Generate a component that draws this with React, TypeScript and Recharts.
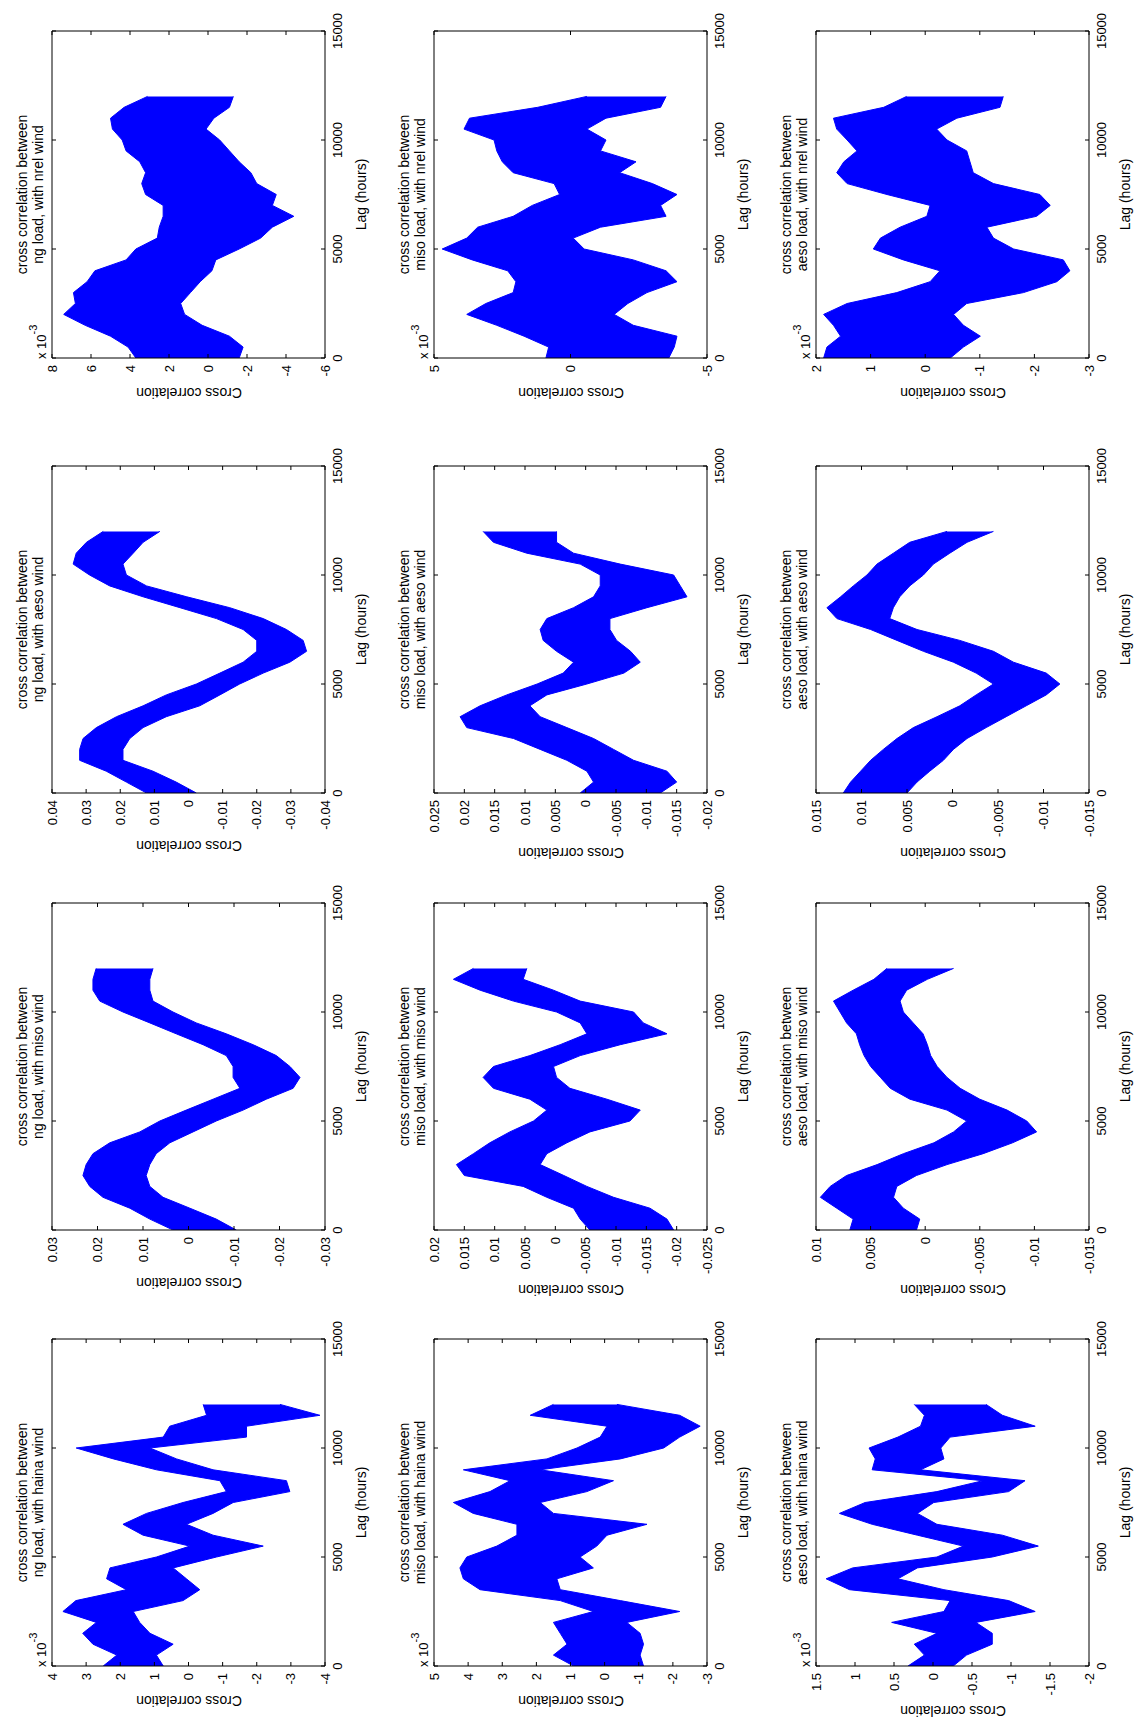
import React from 'react';
import { ComposedChart, Area, XAxis, YAxis, ReferenceArea } from 'recharts';

// lag sample points (hours) used for the band envelopes
const LAGS = [0, 500, 1000, 1500, 2000, 2500, 3000, 3500, 4000, 4500, 5000, 5500, 6000,
  6500, 7000, 7500, 8000, 8500, 9000, 9500, 10000, 10500, 11000, 11500, 12000];
const LAG_TICKS = [0, 5000, 10000, 15000];

// upper / lower envelope of each cross-correlation trace
// (haina + nrel panels are in units of 10^-3, as on their axes)
const NG_HAINA_HI = [2.5, 2.1, 2.8, 3.1, 2.7, 3.68, 3.3, 1.82, 2.4, 2.3, 0.94, -0.04, 1.33, 1.92, 1.23, 0.16, -1.11, -0.92, 0.94, 2.2, 3.29, 0.74, 0.55, -0.53, -0.43];
const NG_HAINA_LO = [0.74, 0.94, 0.45, 1.13, 1.43, 1.62, 0.16, -0.33, 0.06, 0.45, -0.82, -2.19, -0.72, 0.06, -0.72, -1.31, -2.97, -2.87, -0.72, 0.35, 1.13, -1.7, -1.7, -3.85, -2.68];
const MISO_HAINA_HI = [0.91, 1.5, 1.1, 1.3, 1.5, 0.33, 1.3, 3.65, 4.14, 4.24, 4.04, 3.16, 2.57, 2.57, 3.85, 4.43, 3.36, 2.77, 4.14, 1.69, 0.81, 0.13, -0.07, 2.18, 1.5];
const MISO_HAINA_LO = [-1.14, -1.04, -1.14, -1.04, -0.65, -2.2, -0.46, 1.3, 1.4, 0.33, 0.72, 0.23, -0.07, -1.24, 1.5, 1.89, 0.52, -0.26, 1.89, -0.46, -1.73, -2.2, -2.8, -2.2, -0.36];
const AESO_HAINA_HI = [0.32, 0.11, 0.24, -0.05, 0.53, -0.14, -0.22, 1.07, 1.37, 1.03, -0.05, -0.39, 0.2, 0.78, 1.2, 0.87, -0.05, -0.64, 0.78, 0.74, 0.82, 0.45, 0.16, 0.11, 0.24];
const AESO_HAINA_LO = [-0.26, -0.43, -0.76, -0.76, -0.55, -1.31, -0.97, -0.14, 0.45, 0.2, -0.76, -1.35, -0.89, -0.05, 0.2, -0.01, -0.97, -1.18, 0.16, -0.14, -0.1, -0.22, -1.31, -0.89, -0.68];

const NG_MISO_HI = [0.0034, 0.0085, 0.0129, 0.0188, 0.0217, 0.0232, 0.0225, 0.021, 0.0173, 0.0107, 0.0063, 0.0005, -0.0054, -0.0113, -0.0098, -0.0098, -0.0083, -0.0032, 0.0027, 0.0085, 0.0144, 0.0195, 0.021, 0.021, 0.0203];
const NG_MISO_LO = [-0.0105, -0.0061, -0.0003, 0.0056, 0.0085, 0.0093, 0.0085, 0.0071, 0.0041, -0.001, -0.0061, -0.012, -0.0171, -0.023, -0.0245, -0.0223, -0.0193, -0.0142, -0.0083, -0.0017, 0.0034, 0.0078, 0.0085, 0.0085, 0.0078];
const MISO_MISO_HI = [-0.0057, -0.0041, -0.003, 0.0014, 0.0053, 0.015, 0.0163, 0.0135, 0.0108, 0.0075, 0.0036, 0.0014, 0.0042, 0.0102, 0.0119, 0.0102, 0.0042, -0.0008, -0.0052, -0.0041, -0.0002, 0.0069, 0.0124, 0.0168, 0.0135];
const MISO_MISO_LO = [-0.0195, -0.0184, -0.0156, -0.0096, -0.0052, -0.0014, 0.0025, 0.0014, -0.0019, -0.0057, -0.0123, -0.014, -0.0085, -0.0024, -0.0002, 0.0003, -0.0041, -0.0107, -0.0184, -0.0145, -0.0129, -0.0041, 0.0003, 0.0053, 0.0047];
const AESO_MISO_HI = [0.0069, 0.0066, 0.0081, 0.0096, 0.0087, 0.0072, 0.0044, 0.002, -0.0008, -0.0026, -0.0038, -0.002, 0.0014, 0.0032, 0.0041, 0.005, 0.0056, 0.006, 0.0063, 0.0072, 0.0078, 0.0084, 0.0066, 0.0047, 0.0035];
const AESO_MISO_LO = [0.0008, 0.0005, 0.002, 0.0029, 0.0026, 0.0008, -0.002, -0.0053, -0.008, -0.0102, -0.0093, -0.0075, -0.005, -0.0032, -0.002, -0.0011, -0.0005, -0.0002, 0.0002, 0.0011, 0.002, 0.0023, 0.0017, -0.0002, -0.0026];

const NG_AESO_HI = [0.0123, 0.0182, 0.0241, 0.0319, 0.0319, 0.0309, 0.027, 0.0211, 0.0133, 0.0065, -0.0023, -0.0092, -0.016, -0.02, -0.02, -0.016, -0.0082, 0.0025, 0.0133, 0.0231, 0.029, 0.0338, 0.0329, 0.0299, 0.025];
const NG_AESO_LO = [-0.0023, 0.0036, 0.0104, 0.0192, 0.0192, 0.0172, 0.0133, 0.0065, -0.0033, -0.0092, -0.015, -0.0219, -0.0297, -0.0346, -0.0336, -0.0287, -0.0219, -0.0121, 0.0005, 0.0123, 0.0182, 0.0192, 0.0162, 0.0133, 0.0084];
const MISO_AESO_HI = [0.0009, -0.0013, -0.0002, 0.0031, 0.0075, 0.0119, 0.0196, 0.0207, 0.0174, 0.013, 0.008, 0.0037, 0.002, 0.0048, 0.007, 0.0075, 0.0064, 0.002, -0.0013, -0.0024, -0.0024, 0.0009, 0.0097, 0.0152, 0.0169];
const MISO_AESO_LO = [-0.0123, -0.015, -0.0134, -0.0079, -0.0046, -0.0013, 0.0031, 0.0075, 0.0092, 0.0064, -0.0002, -0.0063, -0.009, -0.0074, -0.0051, -0.004, -0.004, -0.0101, -0.0167, -0.0156, -0.0145, -0.0057, 0.002, 0.0048, 0.0048];
const AESO_AESO_HI = [0.012, 0.0112, 0.0101, 0.009, 0.0076, 0.0061, 0.0043, 0.0017, -0.0008, -0.0026, -0.0045, -0.0026, -0.0001, 0.0032, 0.0061, 0.009, 0.0127, 0.0138, 0.0123, 0.0109, 0.0094, 0.0083, 0.0065, 0.0047, 0.0006];
const AESO_AESO_LO = [0.005, 0.0039, 0.0025, 0.001, -0.0001, -0.0016, -0.0037, -0.0059, -0.0081, -0.0103, -0.0118, -0.0103, -0.0067, -0.0045, -0.0008, 0.0039, 0.0069, 0.0065, 0.0058, 0.0047, 0.0032, 0.0021, 0.0003, -0.0016, -0.0045];

const NG_NREL_HI = [3.7, 4.1, 5.0, 6.3, 7.4, 6.8, 6.9, 6.2, 5.8, 4.2, 3.7, 2.6, 2.5, 2.3, 2.3, 3.2, 3.4, 3.2, 3.5, 4.2, 4.4, 4.9, 5.0, 4.3, 3.1];
const NG_NREL_LO = [-1.6, -1.8, -1.1, 0.3, 1.2, 1.4, 0.9, 0.4, -0.2, -0.4, -1.6, -2.7, -3.3, -4.4, -3.3, -3.5, -2.5, -2.2, -1.6, -1.1, -0.6, 0.1, -0.3, -1.1, -1.3];
const MISO_NREL_HI = [0.9, 0.8, 1.7, 2.7, 3.8, 3.1, 2.1, 2.0, 2.3, 3.6, 4.7, 3.8, 3.4, 2.1, 1.4, 0.4, 0.6, 2.1, 2.5, 2.7, 2.8, 3.9, 3.7, 1.2, -0.6];
const MISO_NREL_LO = [-3.6, -3.8, -3.9, -2.3, -1.6, -2.1, -2.8, -3.9, -3.5, -2.3, -0.5, -0.1, -1.1, -3.5, -3.3, -3.9, -3.0, -1.8, -2.4, -1.1, -1.3, -0.6, -1.3, -3.3, -3.5];
const AESO_NREL_HI = [1.86, 1.8, 1.55, 1.68, 1.86, 1.43, 0.52, -0.09, -0.27, 0.4, 0.95, 0.82, 0.46, -0.03, -0.09, 0.7, 1.43, 1.62, 1.49, 1.25, 1.43, 1.62, 1.68, 0.76, 0.34];
const AESO_NREL_LO = [-0.46, -0.7, -1.01, -0.7, -0.52, -0.76, -1.8, -2.41, -2.65, -2.53, -1.62, -1.25, -1.13, -2.04, -2.29, -2.1, -1.25, -0.88, -0.82, -0.76, -0.4, -0.21, -0.58, -1.37, -1.43];

// value-axis ticks per panel
const NG_HAINA_TICKS = [-4, -3, -2, -1, 0, 1, 2, 3, 4];
const MISO_HAINA_TICKS = [-3, -2, -1, 0, 1, 2, 3, 4, 5];
const AESO_HAINA_TICKS = [-2, -1.5, -1, -0.5, 0, 0.5, 1, 1.5];
const NG_MISO_TICKS = [-0.03, -0.02, -0.01, 0, 0.01, 0.02, 0.03];
const MISO_MISO_TICKS = [-0.025, -0.02, -0.015, -0.01, -0.005, 0, 0.005, 0.01, 0.015, 0.02];
const AESO_MISO_TICKS = [-0.015, -0.01, -0.005, 0, 0.005, 0.01];
const NG_AESO_TICKS = [-0.04, -0.03, -0.02, -0.01, 0, 0.01, 0.02, 0.03, 0.04];
const MISO_AESO_TICKS = [-0.02, -0.015, -0.01, -0.005, 0, 0.005, 0.01, 0.015, 0.02, 0.025];
const AESO_AESO_TICKS = [-0.015, -0.01, -0.005, 0, 0.005, 0.01, 0.015];
const NG_NREL_TICKS = [-6, -4, -2, 0, 2, 4, 6, 8];
const MISO_NREL_TICKS = [-5, 0, 5];
const AESO_NREL_TICKS = [-3, -2, -1, 0, 1, 2];

const LOADS = ['ng', 'miso', 'aeso'];
const WINDS = ['haina', 'miso', 'aeso', 'nrel'];

// [load][wind]
const PANELS = [
  [
    { hi: NG_HAINA_HI, lo: NG_HAINA_LO, ticks: NG_HAINA_TICKS, exp: true },
    { hi: NG_MISO_HI, lo: NG_MISO_LO, ticks: NG_MISO_TICKS, exp: false },
    { hi: NG_AESO_HI, lo: NG_AESO_LO, ticks: NG_AESO_TICKS, exp: false },
    { hi: NG_NREL_HI, lo: NG_NREL_LO, ticks: NG_NREL_TICKS, exp: true },
  ],
  [
    { hi: MISO_HAINA_HI, lo: MISO_HAINA_LO, ticks: MISO_HAINA_TICKS, exp: true },
    { hi: MISO_MISO_HI, lo: MISO_MISO_LO, ticks: MISO_MISO_TICKS, exp: false },
    { hi: MISO_AESO_HI, lo: MISO_AESO_LO, ticks: MISO_AESO_TICKS, exp: false },
    { hi: MISO_NREL_HI, lo: MISO_NREL_LO, ticks: MISO_NREL_TICKS, exp: true },
  ],
  [
    { hi: AESO_HAINA_HI, lo: AESO_HAINA_LO, ticks: AESO_HAINA_TICKS, exp: true },
    { hi: AESO_MISO_HI, lo: AESO_MISO_LO, ticks: AESO_MISO_TICKS, exp: false },
    { hi: AESO_AESO_HI, lo: AESO_AESO_LO, ticks: AESO_AESO_TICKS, exp: false },
    { hi: AESO_NREL_HI, lo: AESO_NREL_LO, ticks: AESO_NREL_TICKS, exp: true },
  ],
];

const FONT = '"Liberation Sans", Arial, Helvetica, sans-serif';
const TICK_FS = 13;
const BOX_W = 327;
const BOX_H = 273;
const COL_X = [56, 492, 929, 1364];
const ROW_Y = [52, 434, 816];
const ML = 60;
const MT = 55;
const MR = 20;
const MB = 50;
const TICK = 4;

// rough width of a tick label, so the y label sits just left of the widest one
const labelWidth = (s: string) =>
  s.split('').reduce((w, ch) => w + (ch === '-' ? 0.333 : ch === '.' ? 0.278 : 0.556) * TICK_FS, 0);

// matlab style: ticks inside the box on both sides
const LagTick = (props: any) => {
  const { x, y, payload } = props;
  return (
    <g>
      <line x1={x} y1={y} x2={x} y2={y - TICK} stroke="#000" />
      <line x1={x} y1={y - BOX_H} x2={x} y2={y - BOX_H + TICK} stroke="#000" />
      <text x={x} y={y + 8} dy="0.71em" textAnchor="middle" fontSize={TICK_FS} fontFamily={FONT} fill="#000">
        {String(payload.value)}
      </text>
    </g>
  );
};

const ValueTick = (props: any) => {
  const { x, y, payload } = props;
  return (
    <g>
      <line x1={x} y1={y} x2={x + TICK} y2={y} stroke="#000" />
      <line x1={x + BOX_W} y1={y} x2={x + BOX_W - TICK} y2={y} stroke="#000" />
      <text x={x - 7} y={y} dy="0.35em" textAnchor="end" fontSize={TICK_FS} fontFamily={FONT} fill="#000">
        {String(payload.value)}
      </text>
    </g>
  );
};

const Panel = ({ r, c }: { r: number; c: number }) => {
  const p = PANELS[r][c];
  const x0 = COL_X[c];
  const y0 = ROW_Y[r];
  const domain = [p.ticks[0], p.ticks[p.ticks.length - 1]];
  const rows = LAGS.map((lag, i) => ({ lag, band: [p.lo[i], p.hi[i]] }));
  const ylabOff = Math.max(...p.ticks.map((t) => labelWidth(String(t)))) + 23;
  const text: React.CSSProperties = { position: 'absolute', fontFamily: FONT, color: '#000', whiteSpace: 'nowrap' };

  return (
    <>
      <div style={{ position: 'absolute', left: x0 - ML, top: y0 - MT }}>
        <ComposedChart
          width={ML + BOX_W + MR}
          height={MT + BOX_H + MB}
          data={rows}
          margin={{ top: MT, right: MR, bottom: 0, left: 0 }}
        >
          <XAxis
            dataKey="lag"
            type="number"
            domain={[0, 15000]}
            ticks={LAG_TICKS}
            interval={0}
            tick={LagTick}
            tickLine={false}
            axisLine={false}
            tickSize={0}
            tickMargin={0}
            height={MB}
            allowDataOverflow
          />
          <YAxis
            type="number"
            domain={domain}
            ticks={p.ticks}
            interval={0}
            tick={ValueTick}
            tickLine={false}
            axisLine={false}
            tickSize={0}
            tickMargin={0}
            width={ML}
            allowDataOverflow
          />
          <Area
            dataKey="band"
            type="linear"
            stroke="#0000ff"
            strokeWidth={1}
            fill="#0000ff"
            fillOpacity={1}
            dot={false}
            activeDot={false}
            isAnimationActive={false}
          />
          <ReferenceArea x1={0} x2={15000} y1={domain[0]} y2={domain[1]} fill="none" stroke="#000" strokeWidth={1} ifOverflow="visible" />
        </ComposedChart>
      </div>
      <div style={{ ...text, left: x0, top: y0 - 38, width: BOX_W, textAlign: 'center', fontSize: 14, lineHeight: '16px' }}>
        cross correlation between
        <br />
        {LOADS[r]} load, with {WINDS[c]} wind
      </div>
      <div style={{ ...text, left: x0, top: y0 + BOX_H + 28, width: BOX_W, textAlign: 'center', fontSize: 14, lineHeight: '16px' }}>
        Lag (hours)
      </div>
      <div
        style={{
          ...text,
          left: x0 - ylabOff - 100,
          top: y0 + BOX_H / 2 - 8,
          width: 200,
          height: 16,
          textAlign: 'center',
          fontSize: 14,
          lineHeight: '16px',
          transform: 'rotate(-90deg)',
        }}
      >
        Cross correlation
      </div>
      {p.exp && (
        <div style={{ ...text, left: x0 - 1, top: y0 - 18, fontSize: 13, lineHeight: '16px' }}>
          x 10<span style={{ fontSize: 11, position: 'relative', top: -9 }}>-3</span>
        </div>
      )}
    </>
  );
};

export default function App() {
  return (
    <div style={{ position: 'absolute', left: 0, top: 0, width: 1134, height: 1722, overflow: 'hidden', background: '#fff' }}>
      {/* figure is laid out landscape and turned a quarter turn counter-clockwise */}
      <div
        style={{
          position: 'absolute',
          left: 0,
          top: 0,
          width: 1722,
          height: 1134,
          transformOrigin: '0 0',
          transform: 'translateY(1722px) rotate(-90deg)',
        }}
      >
        {LOADS.map((_, r) => WINDS.map((__, c) => <Panel key={`${r}-${c}`} r={r} c={c} />))}
      </div>
    </div>
  );
}
